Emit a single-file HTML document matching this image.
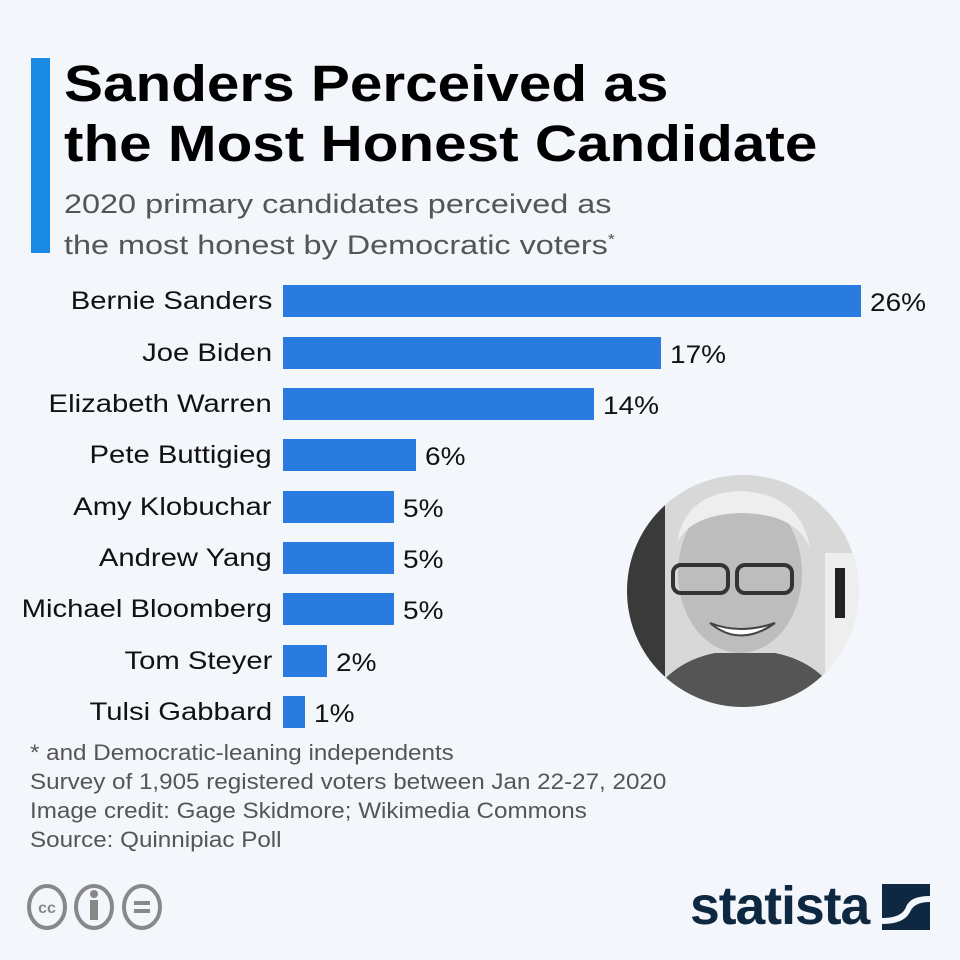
<!DOCTYPE html>
<html><head><meta charset="utf-8"><style>
body{margin:0;width:960px;height:960px;background:#f3f6fa;font-family:"Liberation Sans",sans-serif;position:relative;overflow:hidden}
.a{position:absolute}
.t{left:64px;top:54px;font-size:51px;font-weight:bold;color:#000;line-height:60px;white-space:nowrap;transform:scaleX(1.146);transform-origin:left}
.s{left:64px;top:186px;font-size:27px;color:#555;line-height:36px;white-space:nowrap;transform:scaleX(1.2);transform-origin:left}
.lab{position:absolute;right:688px;font-size:25px;color:#111;line-height:32px;white-space:nowrap;transform:scaleX(1.17);transform-origin:right}
.bar{position:absolute;left:283px;height:32px;background:#2a7be0}
.val{position:absolute;font-size:25px;color:#111;line-height:32px;transform:scaleX(1.12);transform-origin:left}
.f{left:30px;top:738px;font-size:22px;color:#555;line-height:29px;white-space:nowrap;transform:scaleX(1.1);transform-origin:left}
</style></head><body>
<div class="a" style="left:31px;top:58px;width:19px;height:195px;background:#1a8ae5"></div>
<div class="a t">Sanders Perceived as<br>the Most Honest Candidate</div>
<div class="a s">2020 primary candidates perceived as<br>the most honest by Democratic voters<sup style="font-size:15px">*</sup></div>

<div class="lab" style="top:285px">Bernie Sanders</div><div class="bar" style="top:285px;width:578px"></div><div class="val" style="top:287px;left:870px">26%</div>
<div class="lab" style="top:337px">Joe Biden</div><div class="bar" style="top:337px;width:378px"></div><div class="val" style="top:339px;left:670px">17%</div>
<div class="lab" style="top:388px">Elizabeth Warren</div><div class="bar" style="top:388px;width:311px"></div><div class="val" style="top:390px;left:603px">14%</div>
<div class="lab" style="top:439px">Pete Buttigieg</div><div class="bar" style="top:439px;width:133px"></div><div class="val" style="top:441px;left:425px">6%</div>
<div class="lab" style="top:491px">Amy Klobuchar</div><div class="bar" style="top:491px;width:111px"></div><div class="val" style="top:493px;left:403px">5%</div>
<div class="lab" style="top:542px">Andrew Yang</div><div class="bar" style="top:542px;width:111px"></div><div class="val" style="top:544px;left:403px">5%</div>
<div class="lab" style="top:593px">Michael Bloomberg</div><div class="bar" style="top:593px;width:111px"></div><div class="val" style="top:595px;left:403px">5%</div>
<div class="lab" style="top:645px">Tom Steyer</div><div class="bar" style="top:645px;width:44px"></div><div class="val" style="top:647px;left:336px">2%</div>
<div class="lab" style="top:696px">Tulsi Gabbard</div><div class="bar" style="top:696px;width:22px"></div><div class="val" style="top:698px;left:314px">1%</div>

<svg class="a" style="left:625px;top:473px" width="236" height="236" viewBox="0 0 236 236">
<defs><clipPath id="c"><circle cx="118" cy="118" r="117"/></clipPath></defs>
<g clip-path="url(#c)">
<rect width="236" height="236" fill="#d8d8d8"/>
<rect x="0" y="0" width="40" height="236" fill="#3a3a3a"/>
<rect x="200" y="80" width="36" height="156" fill="#eee"/>
<rect x="210" y="95" width="10" height="50" fill="#222"/>
<path d="M20 236 Q40 190 90 180 L150 180 Q200 190 220 236Z" fill="#555"/>
<ellipse cx="115" cy="100" rx="62" ry="80" fill="#bdbdbd"/>
<path d="M52 70 Q60 20 115 18 Q175 20 185 75 Q170 40 115 40 Q65 42 52 70Z" fill="#eee"/>
<rect x="48" y="92" width="55" height="28" rx="8" fill="none" stroke="#333" stroke-width="4"/>
<rect x="112" y="92" width="55" height="28" rx="8" fill="none" stroke="#333" stroke-width="4"/>
<path d="M85 150 Q115 175 150 150 Q115 162 85 150Z" fill="#fff" stroke="#444" stroke-width="2"/>
</g>
<circle cx="118" cy="118" r="117" fill="none" stroke="#f3f6fa" stroke-width="2"/>
</svg>

<div class="a f">* and Democratic-leaning independents<br>Survey of 1,905 registered voters between Jan 22-27, 2020<br>Image credit: Gage Skidmore; Wikimedia Commons<br>Source: Quinnipiac Poll</div>

<svg class="a" style="left:26px;top:882px" width="140" height="50">
<g fill="none" stroke="#888" stroke-width="4">
<ellipse cx="21" cy="25" rx="18" ry="21"/><ellipse cx="68" cy="25" rx="18" ry="21"/><ellipse cx="116" cy="25" rx="18" ry="21"/>
</g>
<text x="21" y="31" text-anchor="middle" font-family="Liberation Sans" font-weight="bold" font-size="16" fill="#888">cc</text>
<circle cx="68" cy="12" r="4" fill="#888"/><rect x="64" y="18" width="8" height="20" fill="#888"/>
<rect x="108" y="19" width="16" height="4" fill="#888"/><rect x="108" y="27" width="16" height="4" fill="#888"/>
</svg>
<div class="a" style="left:690px;top:876px;font-size:54px;font-weight:bold;color:#0e2842;letter-spacing:-1px;transform:scaleX(0.99);transform-origin:left;line-height:60px">statista</div>
<svg class="a" style="left:882px;top:884px" width="48" height="46"><rect width="48" height="46" fill="#0e2842"/><path d="M0 34 Q20 34 24 23 Q28 12 48 12 L48 18 Q32 18 28 28 Q22 40 0 40Z" fill="#f3f6fa"/></svg>
</body></html>
